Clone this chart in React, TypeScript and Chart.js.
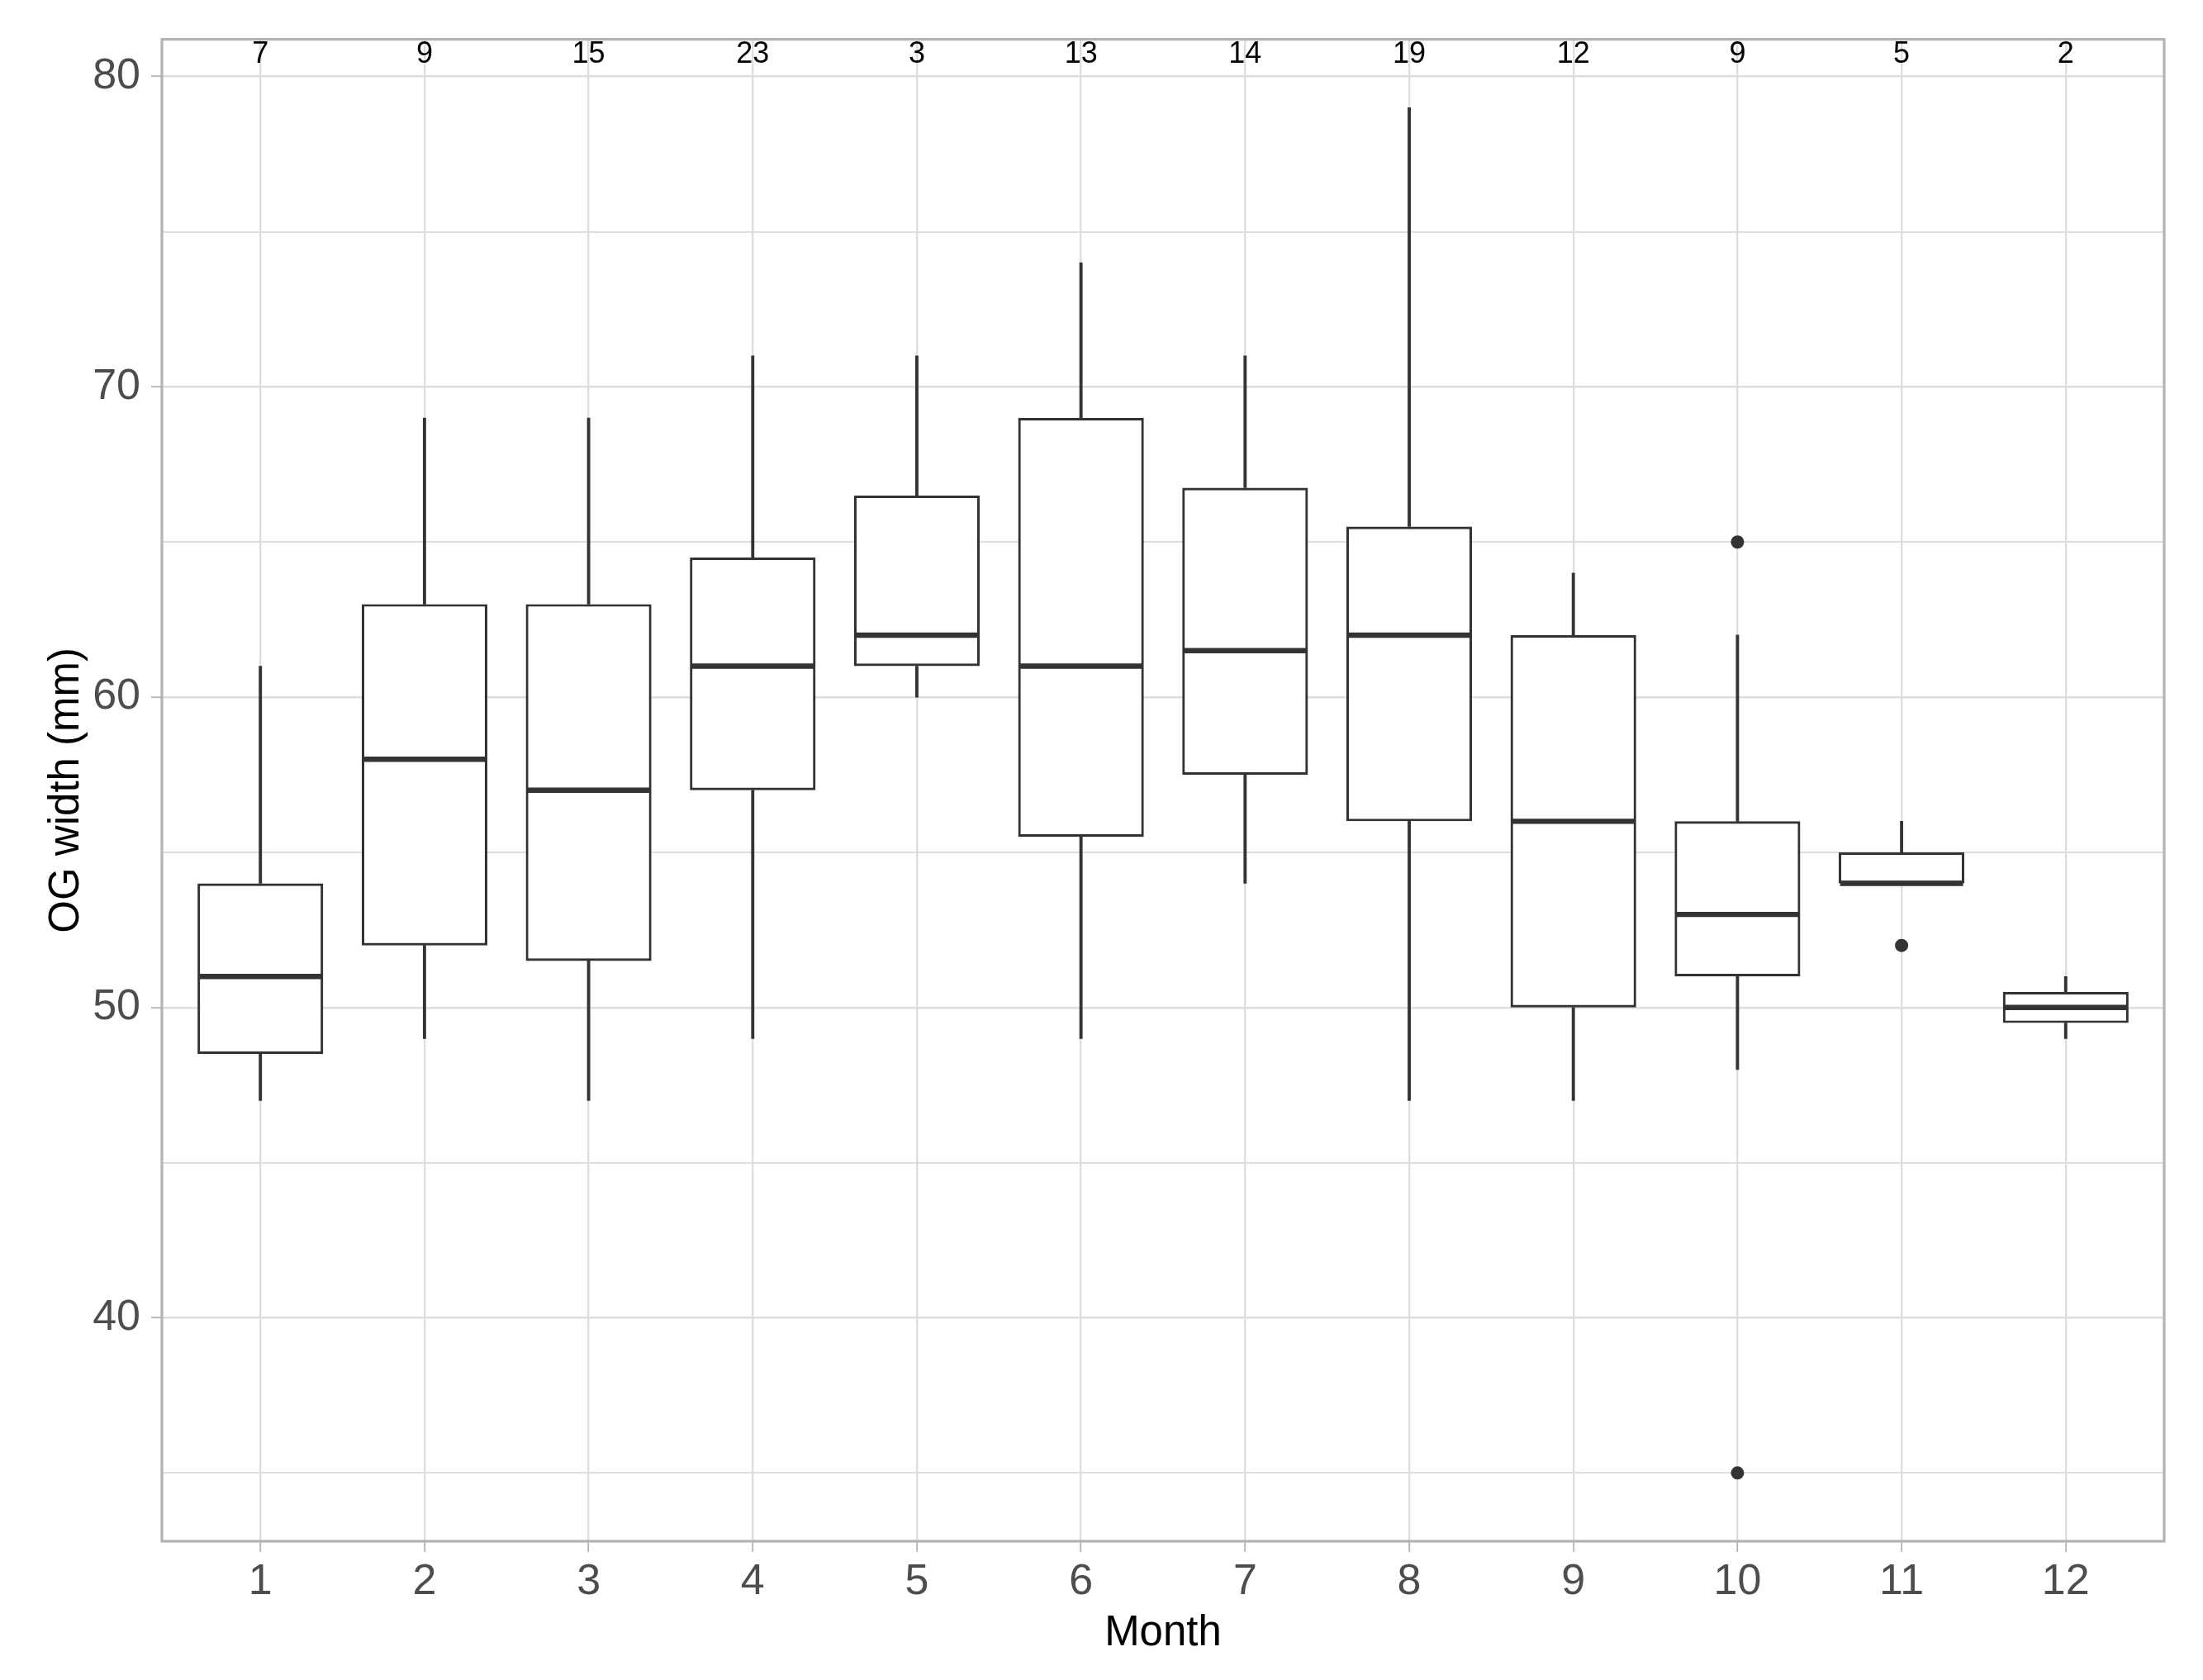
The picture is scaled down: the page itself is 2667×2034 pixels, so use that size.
import React, { useEffect, useRef } from "react";
import { Chart, registerables } from "chart.js";

Chart.register(...registerables);

// ---------- data ----------
const months = [1, 2, 3, 4, 5, 6, 7, 8, 9, 10, 11, 12];
const counts = [7, 9, 15, 23, 3, 13, 14, 19, 12, 9, 5, 2];
const whiskerLow = [47, 49, 47, 49, 60, 49, 54, 47, 47, 48, 54, 49];
const q1 = [48.5, 52, 51.5, 57, 61, 55.5, 57.5, 56, 50, 51, 54, 49.5];
const median = [51, 58, 57, 61, 62, 61, 61.5, 62, 56, 53, 54, 50];
const q3 = [54, 63, 63, 64.5, 66.5, 69, 66.75, 65.5, 62, 56, 55, 50.5];
const whiskerHigh = [61, 69, 69, 71, 71, 74, 71, 79, 64, 62, 56, 51];
const outlierMonth = [10, 10, 11];
const outlierValue = [65, 35, 52];
const yTickValues = [35, 40, 45, 50, 55, 60, 65, 70, 75, 80];

const X_TITLE = "Month";
const Y_TITLE = "OG width (mm)";

// ---------- style ----------
const FONT = '"Liberation Sans", Arial, Helvetica, sans-serif';
const DARK = "#333333";
const GRID = "#DEDEDE";
const FRAME = "#B3B3B3";
const BOX_WIDTH = 0.75;

const panelBorder = {
  id: "panelBorder",
  afterDatasetsDraw(chart: any) {
    const { left, top, right, bottom } = chart.chartArea;
    const ctx = chart.ctx;
    ctx.save();
    ctx.strokeStyle = FRAME;
    ctx.lineWidth = 3.2;
    ctx.strokeRect(left, top, right - left, bottom - top);
    ctx.restore();
  },
};

const countLabels = {
  id: "countLabels",
  afterDatasetsDraw(chart: any) {
    const xs = chart.scales.x;
    const top = chart.chartArea.top;
    const ctx = chart.ctx;
    ctx.save();
    ctx.font = `36px ${FONT}`;
    ctx.fillStyle = "#000000";
    ctx.textAlign = "center";
    ctx.textBaseline = "middle";
    months.forEach((m, i) => {
      ctx.fillText(String(counts[i]), xs.getPixelForValue(m), top + 18);
    });
    ctx.restore();
  },
};

export default function App() {
  const ref = useRef<HTMLCanvasElement | null>(null);

  useEffect(() => {
    document.body.style.margin = "0";
    const canvas = ref.current;
    if (!canvas) return;

    const halfBox = (ctx: any) => {
      const s = ctx.chart.scales.x;
      if (!s) return 70;
      return Math.abs(s.getPixelForValue(BOX_WIDTH / 2) - s.getPixelForValue(0));
    };

    const chart = new Chart(canvas, {
      type: "bar",
      data: {
        datasets: [
          {
            type: "scatter",
            label: "median",
            data: months.map((m, i) => ({ x: m, y: median[i] })),
            pointStyle: "line",
            pointRadius: halfBox,
            pointHoverRadius: halfBox,
            pointBorderWidth: 6.4,
            pointBorderColor: DARK,
            pointBackgroundColor: DARK,
            order: 0,
          } as any,
          {
            type: "scatter",
            label: "outliers",
            data: outlierMonth.map((m, i) => ({ x: m, y: outlierValue[i] })),
            pointStyle: "circle",
            pointRadius: 8,
            pointHoverRadius: 8,
            pointBorderWidth: 0,
            pointBackgroundColor: DARK,
            order: 0,
          } as any,
          {
            type: "bar",
            label: "box",
            data: months.map((m, i) => ({ x: m, y: [q1[i], q3[i]] })),
            backgroundColor: "#FFFFFF",
            borderColor: DARK,
            borderWidth: 3.2,
            borderSkipped: false,
            barPercentage: BOX_WIDTH + 0.016,
            categoryPercentage: 1,
            grouped: false,
            order: 1,
          } as any,
          {
            type: "bar",
            label: "upper whisker",
            data: months.map((m, i) => ({ x: m, y: [q3[i], whiskerHigh[i]] })),
            backgroundColor: DARK,
            borderWidth: 0,
            barThickness: 3.2,
            grouped: false,
            order: 2,
          } as any,
          {
            type: "bar",
            label: "lower whisker",
            data: months.map((m, i) => ({ x: m, y: [whiskerLow[i], q1[i]] })),
            backgroundColor: DARK,
            borderWidth: 0,
            barThickness: 3.2,
            grouped: false,
            order: 2,
          } as any,
        ],
      },
      options: {
        animation: false,
        responsive: false,
        events: [],
        layout: { padding: { top: 47.6, right: 47, left: 0, bottom: 0 } },
        plugins: {
          legend: { display: false },
          tooltip: { enabled: false },
        },
        scales: {
          x: {
            type: "linear",
            position: "bottom",
            min: 0.4,
            max: 12.6,
            offset: false,
            afterBuildTicks: (s: any) => {
              s.ticks = months.map((v) => ({ value: v }));
            },
            afterFit: (s: any) => {
              s.height = 168;
            },
            ticks: {
              autoSkip: false,
              maxRotation: 0,
              padding: 5,
              color: "#4D4D4D",
              font: { family: FONT, size: 52 },
              callback: (v: any) => String(v),
            },
            grid: {
              offset: false,
              color: GRID,
              lineWidth: 2.4,
              tickColor: FRAME,
              tickWidth: 1.8,
              tickLength: 13,
            },
            border: { display: false },
            title: {
              display: true,
              text: X_TITLE,
              color: "#000000",
              font: { family: FONT, size: 51 },
              padding: { top: 0, bottom: 25 },
            },
          },
          y: {
            type: "linear",
            min: 32.8,
            max: 81.2,
            afterBuildTicks: (s: any) => {
              s.ticks = yTickValues.map((v) => ({ value: v }));
            },
            afterFit: (s: any) => {
              s.width = 196;
            },
            ticks: {
              padding: 13,
              color: "#4D4D4D",
              font: { family: FONT, size: 52 },
              callback: (v: any) => (Number(v) % 10 === 0 ? String(v) : ""),
            },
            grid: {
              color: GRID,
              lineWidth: (c: any) => (c.tick && c.tick.value % 10 === 0 ? 2.4 : 2.0),
              tickColor: (c: any) =>
                c.tick && c.tick.value % 10 === 0 ? FRAME : "rgba(0,0,0,0)",
              tickWidth: 1.8,
              tickLength: 13,
            },
            border: { display: false },
            title: {
              display: true,
              text: Y_TITLE,
              color: "#000000",
              font: { family: FONT, size: 51 },
              padding: { top: 50, bottom: 0 },
            },
          },
        },
      } as any,
      plugins: [panelBorder, countLabels],
    });

    return () => chart.destroy();
  }, []);

  return (
    <canvas
      ref={ref}
      width={2667}
      height={2034}
      style={{ display: "block", width: "2667px", height: "2034px" }}
    />
  );
}
